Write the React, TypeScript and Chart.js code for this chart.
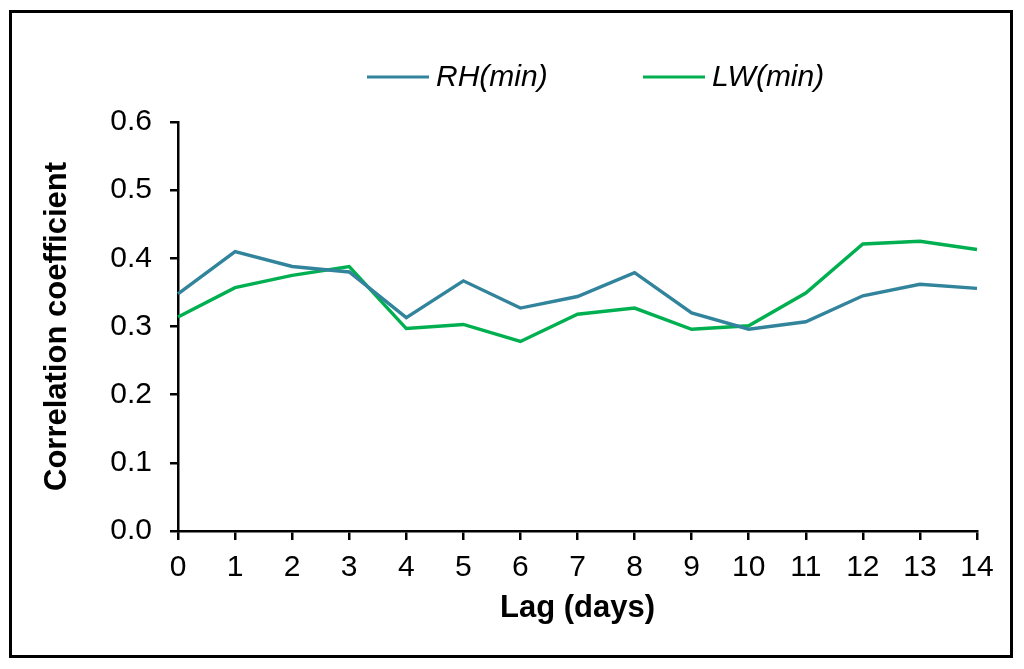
import React, { useEffect, useRef } from "react";
import { Chart, registerables } from "chart.js";

Chart.register(...registerables);

const lagLabels = ["0", "1", "2", "3", "4", "5", "6", "7", "8", "9", "10", "11", "12", "13", "14"];
const rhMin = [0.348, 0.41, 0.388, 0.38, 0.313, 0.367, 0.327, 0.344, 0.379, 0.32, 0.296, 0.307, 0.345, 0.362, 0.356];
const lwMin = [0.314, 0.357, 0.375, 0.388, 0.297, 0.303, 0.278, 0.318, 0.327, 0.296, 0.301, 0.349, 0.421, 0.425, 0.413];
const seriesNames = ["RH(min)", "LW(min)"];
const seriesColors = ["#31849B", "#00B050"];
const yMin = 0;
const yMax = 0.6;
const yStep = 0.1;
const xTitle = "Lag (days)";
const yTitle = "Correlation coefficient";

const FONT = "'Liberation Sans', Arial, Helvetica, sans-serif";

const legendPlugin = {
  id: "customLegend",
  afterDraw(chart: any) {
    const ctx = chart.ctx;
    const starts = [367, 643];
    const y = 77;
    ctx.save();
    chart.data.datasets.forEach((ds: any, i: number) => {
      const x0 = starts[i];
      ctx.strokeStyle = ds.borderColor;
      ctx.lineWidth = 3.2;
      ctx.beginPath();
      ctx.moveTo(x0, y);
      ctx.lineTo(x0 + 62, y);
      ctx.stroke();
      ctx.fillStyle = "#000";
      ctx.font = `italic 30px ${FONT}`;
      ctx.textBaseline = "middle";
      ctx.textAlign = "left";
      ctx.fillText(ds.label, x0 + 69, y + 1);
    });
    ctx.restore();
  },
};

export default function App() {
  const ref = useRef<HTMLCanvasElement | null>(null);

  useEffect(() => {
    document.body.style.margin = "0";
    const canvas = ref.current;
    if (!canvas) return;
    const chart = new Chart(canvas, {
      type: "line",
      data: {
        labels: lagLabels,
        datasets: [
          {
            label: seriesNames[0],
            data: rhMin,
            borderColor: seriesColors[0],
            backgroundColor: seriesColors[0],
            borderWidth: 3.4,
            pointRadius: 0,
            tension: 0,
            fill: false,
          },
          {
            label: seriesNames[1],
            data: lwMin,
            borderColor: seriesColors[1],
            backgroundColor: seriesColors[1],
            borderWidth: 3.4,
            pointRadius: 0,
            tension: 0,
            fill: false,
          },
        ],
      },
      options: {
        responsive: false,
        animation: false,
        devicePixelRatio: 1,
        layout: { padding: { left: 0, right: 47, top: 122, bottom: 0 } },
        plugins: {
          legend: { display: false },
          tooltip: { enabled: false },
        },
        scales: {
          x: {
            type: "category",
            offset: false,
            afterFit(scale: any) {
              scale.height = 138;
            },
            grid: {
              display: true,
              drawOnChartArea: false,
              drawTicks: true,
              tickLength: 9,
              color: "#000",
              lineWidth: 2.5,
            },
            border: { display: true, color: "#000", width: 2.5 },
            ticks: {
              color: "#000",
              font: { family: FONT, size: 30 },
              padding: 10,
              maxRotation: 0,
              autoSkip: false,
            },
            title: {
              display: true,
              text: xTitle,
              color: "#000",
              font: { family: FONT, size: 31, weight: "bold" },
              padding: { top: 0, bottom: 42 },
            },
          },
          y: {
            min: yMin,
            max: yMax,
            afterFit(scale: any) {
              scale.width = 178;
            },
            grid: {
              display: true,
              drawOnChartArea: false,
              drawTicks: true,
              tickLength: 8,
              color: "#000",
              lineWidth: 2.5,
            },
            border: { display: true, color: "#000", width: 2.5 },
            ticks: {
              stepSize: yStep,
              color: "#000",
              font: { family: FONT, size: 30 },
              padding: 18,
              callback: (v: any) => Number(v).toFixed(1),
            },
            title: {
              display: true,
              text: yTitle,
              color: "#000",
              font: { family: FONT, size: 31, weight: "bold" },
              padding: { top: 39, bottom: 0 },
            },
          },
        },
      },
      plugins: [legendPlugin],
    });
    return () => chart.destroy();
  }, []);

  return (
    <div style={{ position: "absolute", left: 0, top: 0, width: 1024, height: 669, background: "#fff" }}>
      <canvas ref={ref} width={1024} height={669} style={{ position: "absolute", left: 0, top: 0, width: 1024, height: 669 }} />
      <div
        style={{
          position: "absolute",
          left: 9,
          top: 10,
          width: 1004,
          height: 648,
          border: "3px solid #000",
          boxSizing: "border-box",
          pointerEvents: "none",
        }}
      />
    </div>
  );
}
